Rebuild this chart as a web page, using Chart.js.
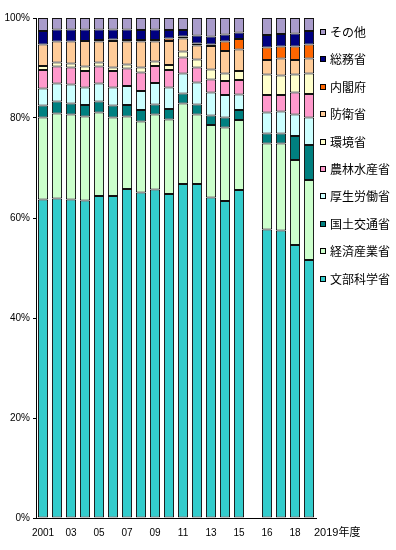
<!DOCTYPE html>
<html>
<head>
<meta charset="utf-8">
<script src="https://cdn.jsdelivr.net/npm/chart.js@4/dist/chart.umd.min.js"></script>
<style>
  body { margin: 0; background: #fff; }
</style>
</head>
<body>
<canvas id="chart" width="396" height="550"></canvas>
<script>
// categories (blank slot separates 2015 and 2016)
const years = ['2001', '2002', '2003', '2004', '2005', '2006', '2007', '2008', '2009', '2010',
               '2011', '2012', '2013', '2014', '2015', '', '2016', '2017', '2018', '2019'];
const tickLabels = ['2001', '', '03', '', '05', '', '07', '', '09', '',
                    '11', '', '13', '', '15', '', '16', '', '18', ''];
const lastTickLabel = '2019年度';

// shares in percent, bottom to top of the stack
const monka   = [63.7, 63.9, 63.7, 63.5, 64.4, 64.4, 65.8, 65.1, 65.7, 64.8, 66.8, 66.8, 64.1, 63.4, 65.6, null, 57.7, 57.5, 54.6, 51.6];
const keisan  = [16.4, 17.0, 17.0, 16.8, 16.7, 15.7, 14.5, 14.2, 15.0, 14.9, 16.1, 13.9, 14.5, 14.7, 14.0, null, 17.2, 17.4, 17.0, 16.0];
const kokudo  = [2.4, 2.4, 2.2, 2.3, 2.2, 2.4, 2.3, 2.3, 2.0, 2.1, 2.0, 2.0, 1.9, 2.0, 2.0, null, 2.0, 2.0, 4.8, 7.0];
const kosei   = [3.4, 3.6, 3.8, 3.5, 3.6, 3.6, 3.8, 3.8, 4.3, 4.3, 4.0, 4.4, 4.6, 4.5, 3.1, null, 4.2, 4.4, 4.3, 5.5];
const norin   = [3.7, 3.4, 3.4, 3.3, 3.4, 3.3, 3.5, 3.7, 3.4, 3.5, 3.2, 3.0, 2.6, 2.8, 2.9, null, 3.5, 3.3, 4.4, 4.7];
const kankyo  = [0.8, 0.8, 0.8, 0.9, 0.8, 0.7, 0.8, 1.0, 0.9, 1.0, 1.2, 1.6, 2.0, 1.5, 1.8, null, 4.1, 3.9, 3.6, 4.1];
const boei    = [4.3, 4.2, 4.4, 5.1, 4.2, 5.3, 4.6, 5.2, 4.0, 4.8, 2.6, 2.8, 4.7, 4.5, 4.3, null, 2.9, 3.4, 2.9, 3.0];
const naikaku = [0, 0, 0, 0, 0.3, 0.3, 0.3, 0.3, 0.3, 0.5, 0.4, 0.4, 0.3, 1.9, 2.1, null, 2.5, 2.4, 2.7, 2.8];
const somu    = [2.7, 2.4, 2.4, 2.3, 2.1, 2.0, 2.1, 2.0, 2.1, 1.7, 1.3, 1.6, 1.6, 1.4, 1.3, null, 2.5, 2.5, 2.6, 2.7];
const sonota  = [2.6, 2.3, 2.3, 2.3, 2.3, 2.3, 2.3, 2.4, 2.3, 2.4, 2.4, 3.5, 3.7, 3.3, 2.9, null, 3.4, 3.2, 3.1, 2.6];

const seriesNames = ['文部科学省', '経済産業省', '国土交通省', '厚生労働省', '農林水産省',
                     '環境省', '防衛省', '内閣府', '総務省', 'その他'];
const seriesData = [monka, keisan, kokudo, kosei, norin, kankyo, boei, naikaku, somu, sonota];
const seriesColors = ['#33CCCC', '#CCFFCC', '#008080', '#CCFFFF', '#FF99CC',
                      '#FFFFCC', '#FFCC99', '#FF6600', '#000080', '#A99CCB'];

const tickFont = { family: '"Liberation Sans", Arial, "Noto Sans CJK JP", sans-serif', size: 10 };

// legend on the right + last x label
const sideLegend = {
    id: 'sideLegend',
    afterDraw(chart) {
        const ctx = chart.ctx;
        const sets = chart.data.datasets;
        ctx.save();
        ctx.font = '12px "Noto Sans CJK JP", sans-serif';
        ctx.textBaseline = 'middle';
        for (let i = 0; i < sets.length; i++) {
            const ds = sets[sets.length - 1 - i];
            const y = Math.round(32 + i * 27.4);
            ctx.fillStyle = ds.backgroundColor;
            ctx.fillRect(320, y - 3, 6, 6);
            ctx.strokeStyle = '#000';
            ctx.lineWidth = 1;
            ctx.strokeRect(320.5, y - 2.5, 5, 5);
            ctx.fillStyle = '#000';
            ctx.fillText(ds.label, 330, y);
        }

        const xs = chart.scales.x;
        ctx.font = '11px "Liberation Sans", Arial, "Noto Sans CJK JP", sans-serif';
        ctx.textBaseline = 'top';
        ctx.textAlign = 'left';
        ctx.fillText(lastTickLabel, xs.getPixelForValue(years.length - 1) + 5, xs.top + 9);
        ctx.restore();
    }
};

const ctx = document.getElementById('chart').getContext('2d');
new Chart(ctx, {
    type: 'bar',
    data: {
        labels: years,
        datasets: seriesNames.map((name, i) => ({
            label: name,
            data: seriesData[i],
            backgroundColor: seriesColors[i],
            borderColor: '#111',
            borderWidth: 1,
            borderSkipped: false,
            barPercentage: 0.72,
            categoryPercentage: 1
        }))
    },
    options: {
        responsive: false,
        animation: false,
        layout: {
            padding: { top: 18, right: 80, bottom: 8, left: 0 }
        },
        plugins: {
            legend: { display: false },
            tooltip: { enabled: false }
        },
        scales: {
            x: {
                stacked: true,
                grid: { display: false, drawTicks: false },
                border: { color: '#000', width: 1 },
                ticks: {
                    autoSkip: false,
                    maxRotation: 0,
                    padding: 9,
                    color: '#000',
                    font: tickFont,
                    callback: function (value, index) {
                        return tickLabels[index];
                    }
                },
                afterFit: function (scale) {
                    scale.height = 24;
                }
            },
            y: {
                stacked: true,
                min: 0,
                max: 100,
                grid: {
                    drawOnChartArea: false,
                    drawTicks: true,
                    tickLength: 3,
                    color: '#000'
                },
                border: { color: '#000', width: 1 },
                ticks: {
                    stepSize: 20,
                    padding: 3,
                    color: '#000',
                    font: tickFont,
                    callback: function (value) {
                        return value + '%';
                    }
                },
                afterFit: function (scale) {
                    scale.width = 36;
                }
            }
        }
    },
    plugins: [sideLegend]
});
</script>
</body>
</html>
